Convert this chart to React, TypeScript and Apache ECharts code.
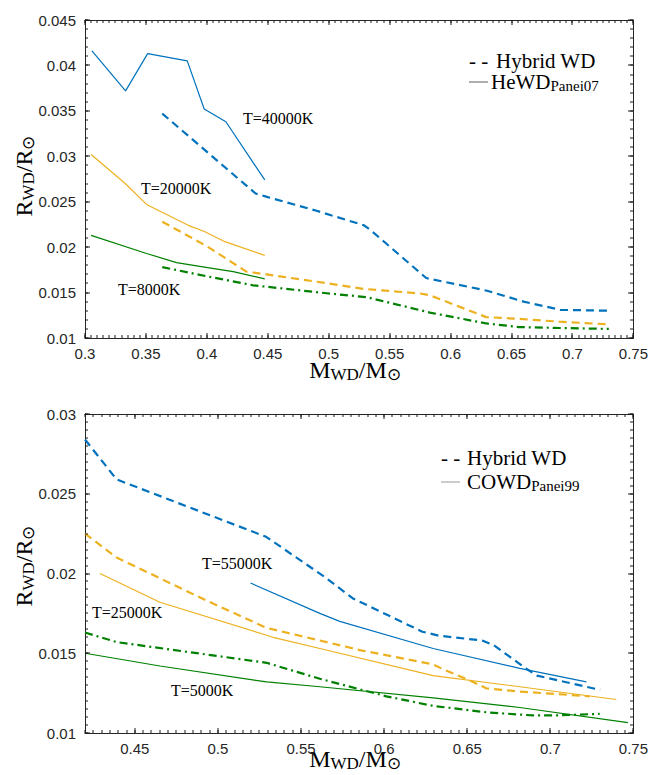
import React, { useEffect, useRef } from "react";
import * as echarts from "echarts";

// ---------- colours ----------
const BLUE = "#0072BD";
const ORANGE = "#EDB120";
const GREEN = "#008000";
const AXIS = "#262626";

// ---------- axis ranges ----------
const topX = { min: 0.3, max: 0.75 };
const topY = { min: 0.01, max: 0.045 };
const botX = { min: 0.42, max: 0.75 };
const botY = { min: 0.01, max: 0.03 };

// ---------- tick values (major = labelled) ----------
const topXTicks = [0.3, 0.35, 0.4, 0.45, 0.5, 0.55, 0.6, 0.65, 0.7, 0.75];
const topYTicks = [0.01, 0.015, 0.02, 0.025, 0.03, 0.035, 0.04, 0.045];
const botXTicks = [0.45, 0.5, 0.55, 0.6, 0.65, 0.7, 0.75];
const botYTicks = [0.01, 0.015, 0.02, 0.025, 0.03];
const topXMinorStep = 0.005;
const topYMinorStep = 0.001;
const botXMinorStep = 0.005;
const botYMinorStep = 0.0005;

// ---------- top panel: HeWD (Panei07, solid) and Hybrid WD (dashed) ----------
const heBlueM = [0.3057, 0.3333, 0.3514, 0.3839, 0.3978, 0.4156, 0.4475];
const heBlueR = [0.0416, 0.0372, 0.0413, 0.0405, 0.0352, 0.0338, 0.0274];
const hybBlueTopM = [0.3634, 0.44, 0.45, 0.49, 0.529, 0.535, 0.58, 0.63, 0.66, 0.69, 0.73];
const hybBlueTopR = [0.0347, 0.0259, 0.0255, 0.024, 0.0224, 0.0218, 0.0166, 0.0152, 0.014, 0.0131, 0.013];

const heOrangeM = [0.305, 0.333, 0.3505, 0.3847, 0.3984, 0.4148, 0.4475];
const heOrangeR = [0.0302, 0.027, 0.0247, 0.0224, 0.0217, 0.0206, 0.0191];
const hybOrangeTopM = [0.3634, 0.4, 0.4325, 0.449, 0.5, 0.529, 0.575, 0.583, 0.6293, 0.6566, 0.689, 0.7298];
const hybOrangeTopR = [0.0228, 0.0201, 0.0173, 0.017, 0.016, 0.0154, 0.0149, 0.0147, 0.0123, 0.0121, 0.0118, 0.0115];

const heGreenM = [0.305, 0.3505, 0.3751, 0.398, 0.4216, 0.4475];
const heGreenR = [0.0213, 0.0193, 0.0183, 0.0178, 0.0173, 0.0165];
const hybGreenTopM = [0.3634, 0.3997, 0.438, 0.5, 0.531, 0.583, 0.6293, 0.6566, 0.689, 0.7298];
const hybGreenTopR = [0.0178, 0.0168, 0.0158, 0.0149, 0.0145, 0.0128, 0.0116, 0.0112, 0.0111, 0.011];

// ---------- bottom panel: COWD (Panei99, solid) and Hybrid WD (dashed) ----------
const hybBlueBotM = [0.42, 0.439, 0.529, 0.564, 0.581, 0.623, 0.633, 0.659, 0.666, 0.686, 0.692, 0.73];
const hybBlueBotR = [0.0284, 0.0259, 0.0223, 0.0198, 0.01845, 0.01635, 0.0161, 0.0158, 0.0155, 0.014, 0.0136, 0.0127];
const coBlueM = [0.5196, 0.5613, 0.5733, 0.6295, 0.6816, 0.7217];
const coBlueR = [0.0194, 0.0175, 0.017, 0.0153, 0.01405, 0.0132];

const hybOrangeBotM = [0.42, 0.439, 0.4671, 0.4932, 0.529, 0.535, 0.5613, 0.5853, 0.6295, 0.6355, 0.6515, 0.6615, 0.6816, 0.7237];
const hybOrangeBotR = [0.0225, 0.021, 0.0196, 0.0183, 0.0166, 0.01645, 0.0158, 0.0152, 0.0143, 0.014, 0.0133, 0.0128, 0.0126, 0.0123];
const coOrangeM = [0.429, 0.4651, 0.5332, 0.5613, 0.6295, 0.6816, 0.7397];
const coOrangeR = [0.02, 0.0182, 0.016, 0.0153, 0.0136, 0.0129, 0.0121];

const hybGreenBotM = [0.42, 0.439, 0.5293, 0.5613, 0.6014, 0.6295, 0.6615, 0.6896, 0.7017, 0.7297];
const hybGreenBotR = [0.0163, 0.0157, 0.0144, 0.0134, 0.0123, 0.0117, 0.0113, 0.0111, 0.0111, 0.0112];
const coGreenM = [0.42, 0.4651, 0.5293, 0.5613, 0.6295, 0.6816, 0.7467];
const coGreenR = [0.015, 0.0142, 0.0132, 0.0129, 0.0122, 0.0116, 0.01065];

const SANS = "'Liberation Sans', Arial, sans-serif";
const SERIF = "'Liberation Serif', 'Times New Roman', serif";

const GRIDS = [
  { left: 85, top: 20, width: 549, height: 318 },
  { left: 85, top: 414, width: 549, height: 319 },
];

const steps = (min: number, max: number, step: number) => {
  const out: number[] = [];
  const n = Math.round((max - min) / step);
  for (let i = 0; i <= n; i++) out.push(Math.round((min + i * step) * 1e7) / 1e7);
  return out;
};

function axis(gridIndex: number, position: string, min: number, max: number, labels: number[] | null) {
  return {
    type: "value",
    gridIndex,
    position,
    min,
    max,
    axisLine: { show: true, onZero: false, lineStyle: { color: AXIS, width: 1 } },
    axisTick: { show: false },
    minorTick: { show: false },
    axisLabel: labels
      ? {
          show: true,
          customValues: labels,
          formatter: (v: number) => String(+v.toFixed(4)),
          fontFamily: SANS,
          fontSize: 15,
          color: AXIS,
          margin: position === "left" ? 9 : 8,
        }
      : { show: false },
    splitLine: { show: false },
    minorSplitLine: { show: false },
  };
}

function line(M: number[], R: number[], color: string, kind: "solid" | "dash" | "dashdot", xi: number, yi: number) {
  const type = kind === "solid" ? "solid" : kind === "dash" ? [8, 5] : [8, 4, 2, 4];
  return {
    type: "line",
    xAxisIndex: xi,
    yAxisIndex: yi,
    data: M.map((m, i) => [m, R[i]]),
    showSymbol: false,
    symbol: "none",
    silent: true,
    lineStyle: { color, width: kind === "solid" ? 1.2 : 2.2, type },
    z: kind === "solid" ? 3 : 4,
  };
}

const richTitle = {
  b: { fontFamily: SERIF, fontSize: 24, lineHeight: 26, fill: "#000", verticalAlign: "middle" },
  s: { fontFamily: SERIF, fontSize: 17, lineHeight: 8, fill: "#000", verticalAlign: "bottom" },
};
const richLegend = {
  b: { fontFamily: SERIF, fontSize: 21, lineHeight: 22, fill: "#000", verticalAlign: "middle" },
  s: { fontFamily: SERIF, fontSize: 15, lineHeight: 8, fill: "#000", verticalAlign: "bottom" },
};

const annot = (text: string, x: number, y: number) => ({
  type: "text",
  x,
  y,
  style: { text, fontFamily: SERIF, fontSize: 16, fill: "#000", verticalAlign: "middle" },
});
const legendText = (text: string, x: number, y: number) => ({
  type: "text",
  x,
  y,
  style: { text, fontFamily: SERIF, fontSize: 21, fill: "#000", verticalAlign: "middle" },
});

export default function App() {
  const ref = useRef<HTMLDivElement>(null);
  useEffect(() => {
    if (!ref.current) return;
    const chart = echarts.init(ref.current, null, { renderer: "svg" });

    const baseGraphic: any[] = [
      { type: "text", x: 355, y: 370, style: { text: "{b|M}{s|WD}{b|/M}{s|⊙}", rich: richTitle, align: "center", verticalAlign: "middle" } },
      { type: "text", x: 355, y: 759, style: { text: "{b|M}{s|WD}{b|/M}{s|⊙}", rich: richTitle, align: "center", verticalAlign: "middle" } },
      { type: "text", x: 24, y: 176, rotation: Math.PI / 2, style: { text: "{b|R}{s|WD}{b|/R}{s|⊙}", rich: richTitle, align: "center", verticalAlign: "middle" } },
      { type: "text", x: 24, y: 566, rotation: Math.PI / 2, style: { text: "{b|R}{s|WD}{b|/R}{s|⊙}", rich: richTitle, align: "center", verticalAlign: "middle" } },
      annot("T=40000K", 243, 118),
      annot("T=20000K", 141, 188),
      annot("T=8000K", 118, 289),
      annot("T=55000K", 202, 563),
      annot("T=25000K", 92, 612),
      annot("T=5000K", 171, 690),
      legendText("- -", 469, 61),
      legendText("Hybrid WD", 496, 61),
      { type: "line", shape: { x1: 469, y1: 82, x2: 488, y2: 82 }, style: { stroke: "#333", lineWidth: 0.8 } },
      { type: "text", x: 491, y: 82, style: { text: "{b|HeWD}{s|Panei07}", rich: richLegend, verticalAlign: "middle" } },
      legendText("- -", 441, 458),
      legendText("Hybrid WD", 467, 458),
      { type: "line", shape: { x1: 441, y1: 482, x2: 460, y2: 482 }, style: { stroke: "#bbb", lineWidth: 1.5 } },
      { type: "text", x: 467, y: 482, style: { text: "{b|COWD}{s|Panei99}", rich: richLegend, verticalAlign: "middle" } },
    ];

    const option: any = {
      animation: false,
      backgroundColor: "#fff",
      grid: GRIDS.map((g) => ({ ...g, show: false })),
      xAxis: [
        axis(0, "bottom", topX.min, topX.max, topXTicks),
        axis(0, "top", topX.min, topX.max, null),
        axis(1, "bottom", botX.min, botX.max, botXTicks),
        axis(1, "top", botX.min, botX.max, null),
      ],
      yAxis: [
        axis(0, "left", topY.min, topY.max, topYTicks),
        axis(0, "right", topY.min, topY.max, null),
        axis(1, "left", botY.min, botY.max, botYTicks),
        axis(1, "right", botY.min, botY.max, null),
      ],
      series: [
        line(heBlueM, heBlueR, BLUE, "solid", 0, 0),
        line(hybBlueTopM, hybBlueTopR, BLUE, "dash", 0, 0),
        line(heOrangeM, heOrangeR, ORANGE, "solid", 0, 0),
        line(hybOrangeTopM, hybOrangeTopR, ORANGE, "dash", 0, 0),
        line(heGreenM, heGreenR, GREEN, "solid", 0, 0),
        line(hybGreenTopM, hybGreenTopR, GREEN, "dashdot", 0, 0),
        line(hybBlueBotM, hybBlueBotR, BLUE, "dash", 2, 2),
        line(coBlueM, coBlueR, BLUE, "solid", 2, 2),
        line(hybOrangeBotM, hybOrangeBotR, ORANGE, "dash", 2, 2),
        line(coOrangeM, coOrangeR, ORANGE, "solid", 2, 2),
        line(hybGreenBotM, hybGreenBotR, GREEN, "dashdot", 2, 2),
        line(coGreenM, coGreenR, GREEN, "solid", 2, 2),
      ],
      graphic: baseGraphic,
    };
    chart.setOption(option);

    // inward ticks on all four sides of each box, as thin filled rects
    const ticks: any[] = [];
    const addTicks = (
      gi: number,
      xi: number,
      yi: number,
      xr: { min: number; max: number },
      yr: { min: number; max: number },
      xMajor: number[],
      xMinor: number[],
      yMajor: number[],
      yMinor: number[]
    ) => {
      const g = GRIDS[gi];
      const toPx = (xv: number, yv: number): number[] => {
        let p: any = null;
        try {
          p = chart.convertToPixel({ xAxisIndex: xi, yAxisIndex: yi } as any, [xv, yv]);
        } catch (e) {
          p = null;
        }
        if (!p || !isFinite(p[0]) || !isFinite(p[1])) {
          p = [
            g.left + ((xv - xr.min) / (xr.max - xr.min)) * g.width,
            g.top + g.height - ((yv - yr.min) / (yr.max - yr.min)) * g.height,
          ];
        }
        return [Math.round(p[0]), Math.round(p[1])];
      };
      const rect = (x: number, y: number, w: number, h: number) =>
        ticks.push({ type: "rect", silent: true, z: 50, shape: { x, y, width: w, height: h }, style: { fill: "#1a1a1a" } });
      const xt = (vals: number[], len: number) =>
        vals.forEach((v) => {
          const [x, yb] = toPx(v, yr.min);
          const [, yt] = toPx(v, yr.max);
          rect(x - 0.5, yb - len, 1, len);
          rect(x - 0.5, yt, 1, len);
        });
      const ytk = (vals: number[], len: number) =>
        vals.forEach((v) => {
          const [xl, y] = toPx(xr.min, v);
          const [xrr] = toPx(xr.max, v);
          rect(xl, y - 0.5, len, 1);
          rect(xrr - len, y - 0.5, len, 1);
        });
      xt(xMinor, 3);
      xt(xMajor, 5);
      ytk(yMinor, 3);
      ytk(yMajor, 5);
    };
    addTicks(0, 0, 0, topX, topY, topXTicks, steps(topX.min, topX.max, topXMinorStep), topYTicks, steps(topY.min, topY.max, topYMinorStep));
    addTicks(1, 2, 2, botX, botY, botXTicks, steps(botX.min, botX.max, botXMinorStep), botYTicks, steps(botY.min, botY.max, botYMinorStep));

    chart.setOption({ graphic: [...baseGraphic, ...ticks] });

    return () => chart.dispose();
  }, []);
  return <div ref={ref} style={{ position: "absolute", left: 0, top: 0, width: 651, height: 775, background: "#fff" }} />;
}
